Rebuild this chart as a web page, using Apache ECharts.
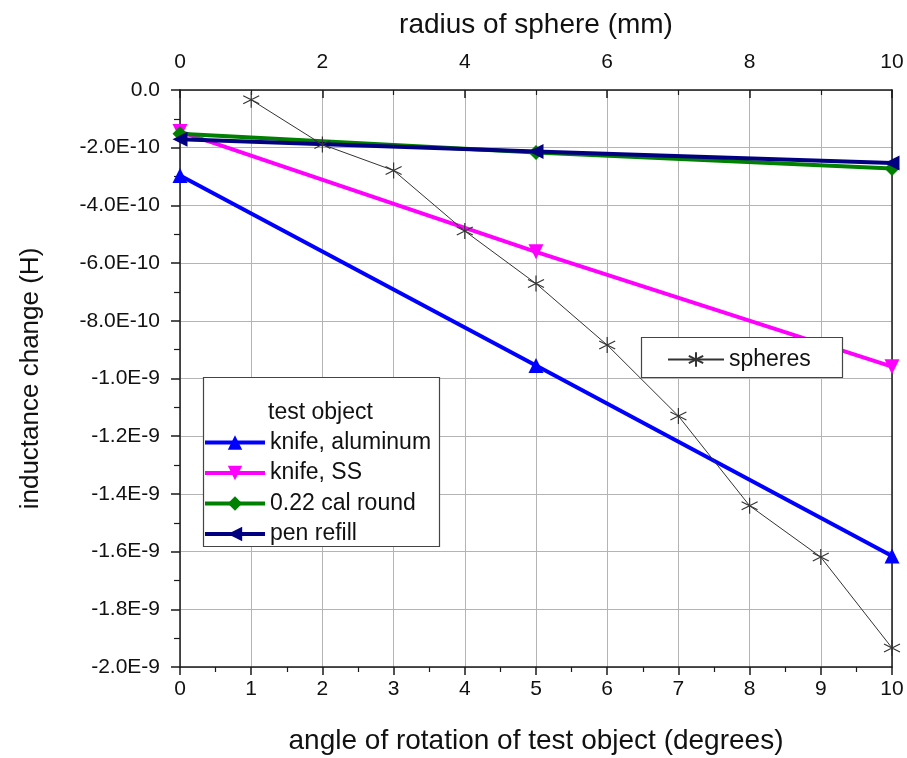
<!DOCTYPE html>
<html>
<head>
<meta charset="utf-8">
<script src="https://cdn.jsdelivr.net/npm/echarts@6/dist/echarts.min.js"></script>
<style>
  html, body { margin: 0; padding: 0; background: #ffffff; }
  #chart { width: 907px; height: 758px; }
</style>
</head>
<body>
<div id="chart"></div>
<script>
// Rotation angle (degrees) for the test-object runs
const angles = [0, 5, 10];
// Inductance change (H) per test object
const knifeAluminum = [-2.96e-10, -9.55e-10, -1.615e-9];
const knifeSS = [-1.44e-10, -5.61e-10, -9.59e-10];
const calRound = [-1.52e-10, -2.17e-10, -2.72e-10];
const penRefill = [-1.71e-10, -2.13e-10, -2.53e-10];

// Sphere radius (mm) and inductance change (H)
const sphereRadius = [1, 2, 3, 4, 5, 6, 7, 8, 9, 10];
const spheres = [-3.4e-11, -1.89e-10, -2.79e-10, -4.89e-10, -6.71e-10,
                 -8.84e-10, -1.13e-9, -1.441e-9, -1.619e-9, -1.934e-9];

// Left-axis tick labels, from 0 downwards
const yTickLabels = ['0.0', '-2.0E-10', '-4.0E-10', '-6.0E-10', '-8.0E-10',
                     '-1.0E-9', '-1.2E-9', '-1.4E-9', '-1.6E-9', '-1.8E-9', '-2.0E-9'];

const FONT = '"Liberation Sans", Arial, sans-serif';
const AXIS = '#1a1a1a';
const GRIDC = '#b4b4b4';

const pair = (xs, ys) => xs.map((x, i) => [x, ys[i]]);

// Six-armed asterisk marker
const starPath = 'path://M0,-10L0,10M-8.66,-5L8.66,5M-8.66,5L8.66,-5';

const chart = echarts.init(document.getElementById('chart'), null, { renderer: 'canvas' });

chart.setOption({
  backgroundColor: '#ffffff',
  animation: false,
  textStyle: { fontFamily: FONT },
  grid: { left: 180, right: 15, top: 90, bottom: 91, containLabel: false, outerBoundsMode: 'none' },
  xAxis: [
    {
      type: 'value', position: 'bottom', min: 0, max: 10, interval: 1,
      name: 'angle of rotation of test object (degrees)',
      nameLocation: 'middle', nameGap: 60,
      nameTextStyle: { fontSize: 28, color: '#111', fontFamily: FONT },
      axisLine: { show: true, onZero: false, lineStyle: { color: AXIS, width: 1.5 } },
      axisTick: { show: true, inside: false, length: 8, lineStyle: { color: AXIS, width: 1.5 } },
      minorTick: { show: true, splitNumber: 2, length: 5, lineStyle: { color: AXIS, width: 1.2 } },
      axisLabel: { fontSize: 21, color: '#111', margin: 12, fontFamily: FONT },
      splitLine: { show: true, lineStyle: { color: GRIDC, width: 1 } }
    },
    {
      type: 'value', position: 'top', min: 0, max: 10, interval: 2,
      name: 'radius of sphere (mm)',
      nameLocation: 'middle', nameGap: 51,
      nameTextStyle: { fontSize: 28, color: '#111', fontFamily: FONT },
      axisLine: { show: true, onZero: false, lineStyle: { color: AXIS, width: 1.5 } },
      axisTick: { show: true, inside: true, length: 8, lineStyle: { color: AXIS, width: 1.5 } },
      minorTick: { show: true, splitNumber: 2, length: 5, lineStyle: { color: AXIS, width: 1.2 } },
      axisLabel: { fontSize: 21, color: '#111', margin: 17, fontFamily: FONT },
      splitLine: { show: false }
    }
  ],
  yAxis: [
    {
      type: 'value', position: 'left', min: -2e-9, max: 0, interval: 2e-10,
      name: 'inductance change (H)',
      nameLocation: 'middle', nameGap: 136, nameRotate: 90,
      nameTextStyle: { fontSize: 26, color: '#111', fontFamily: FONT },
      axisLine: { show: true, onZero: false, lineStyle: { color: AXIS, width: 1.5 } },
      axisTick: { show: true, inside: false, length: 9, lineStyle: { color: AXIS, width: 1.5 } },
      minorTick: { show: true, splitNumber: 2, length: 6, lineStyle: { color: AXIS, width: 1.2 } },
      axisLabel: {
        fontSize: 21, color: '#111', margin: 20, fontFamily: FONT,
        formatter: v => yTickLabels[Math.round(-v / 2e-10)]
      },
      splitLine: { show: true, lineStyle: { color: GRIDC, width: 1 } }
    },
    {
      type: 'value', position: 'right', min: -2e-9, max: 0, interval: 2e-10,
      axisLine: { show: true, onZero: false, lineStyle: { color: AXIS, width: 1.5 } },
      axisTick: { show: false },
      axisLabel: { show: false },
      splitLine: { show: false }
    }
  ],
  legend: [
    {
      data: ['knife, aluminum', 'knife, SS', '0.22 cal round', 'pen refill'],
      orient: 'vertical', left: 203, top: 431, padding: 0,
      itemWidth: 60, itemHeight: 18, itemGap: 7.5,
      lineStyle: { width: 4 },
      textStyle: { fontSize: 23, color: '#111', fontFamily: FONT, lineHeight: 18 },
      z: 30
    },
    {
      data: ['spheres'],
      orient: 'vertical', left: 667, top: 348, padding: 0,
      itemWidth: 56, itemHeight: 18,
      textStyle: { fontSize: 23, color: '#111', fontFamily: FONT, lineHeight: 18 },
      z: 30
    }
  ],
  graphic: [
    {
      type: 'rect', z: 20, silent: true,
      shape: { x: 203.5, y: 377.5, width: 236, height: 169 },
      style: { fill: '#ffffff', stroke: '#444', lineWidth: 1.2 }
    },
    {
      type: 'text', z: 31, silent: true,
      style: { x: 268, y: 413, text: 'test object', fontSize: 23, fontFamily: FONT,
               fill: '#111', verticalAlign: 'middle', align: 'left' }
    },
    {
      type: 'rect', z: 20, silent: true,
      shape: { x: 641.5, y: 337.5, width: 201, height: 40 },
      style: { fill: '#ffffff', stroke: '#444', lineWidth: 1.2 }
    }
  ],
  series: [
    {
      name: 'knife, aluminum', type: 'line', xAxisIndex: 0, yAxisIndex: 0,
      data: pair(angles, knifeAluminum),
      symbol: 'triangle', symbolSize: 15,
      lineStyle: { color: '#0000ff', width: 4 },
      itemStyle: { color: '#0000ff' }, z: 5
    },
    {
      name: 'knife, SS', type: 'line', xAxisIndex: 0, yAxisIndex: 0,
      data: pair(angles, knifeSS),
      symbol: 'triangle', symbolRotate: 180, symbolSize: 15,
      lineStyle: { color: '#ff00ff', width: 4 },
      itemStyle: { color: '#ff00ff' }, z: 5
    },
    {
      name: '0.22 cal round', type: 'line', xAxisIndex: 0, yAxisIndex: 0,
      data: pair(angles, calRound),
      symbol: 'diamond', symbolSize: 15,
      lineStyle: { color: '#008000', width: 4 },
      itemStyle: { color: '#008000' }, z: 5
    },
    {
      name: 'pen refill', type: 'line', xAxisIndex: 0, yAxisIndex: 0,
      data: pair(angles, penRefill),
      symbol: 'triangle', symbolRotate: 90, symbolSize: 15,
      lineStyle: { color: '#000080', width: 4 },
      itemStyle: { color: '#000080' }, z: 6
    },
    {
      name: 'spheres', type: 'line', xAxisIndex: 1, yAxisIndex: 0,
      data: pair(sphereRadius, spheres),
      symbol: starPath, symbolSize: 16, showAllSymbol: true,
      lineStyle: { color: '#333333', width: 1 },
      itemStyle: { color: 'rgba(0,0,0,0)', borderColor: '#333333', borderWidth: 1.2 },
      z: 7
    }
  ]
});
</script>
</body>
</html>
